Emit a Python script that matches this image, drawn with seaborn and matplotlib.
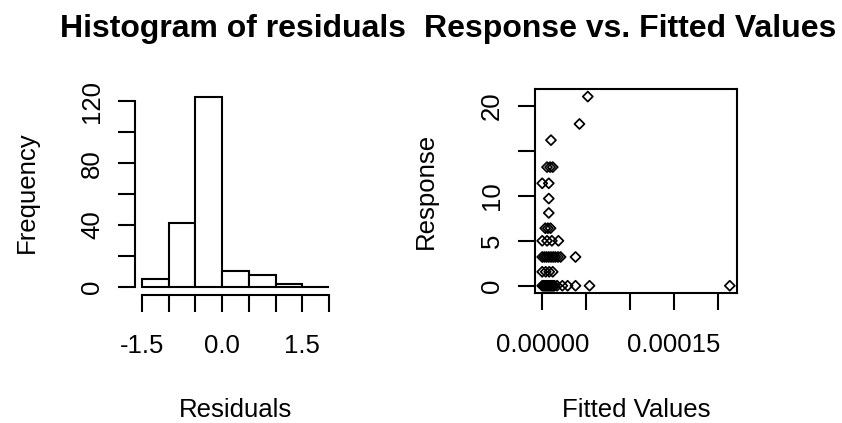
import matplotlib
matplotlib.use("Agg")
import matplotlib.pyplot as plt
import seaborn as sns
import numpy as np
import pandas as pd

# ---------------- data ----------------
hist_bin_edges = [-1.5, -1.0, -0.5, 0.0, 0.5, 1.0, 1.5, 2.0]
hist_counts = [5, 41, 123, 10, 8, 2, 0]
hist_xticks = [-1.5, -1.0, -0.5, 0.0, 0.5, 1.0, 1.5, 2.0]
hist_xticklabels = ["-1.5", "", "", "0.0", "", "", "1.5", ""]
hist_yticks = [0, 20, 40, 60, 80, 100, 120]
hist_yticklabels = ["0", "", "40", "", "80", "", "120"]

fitted = [
    # response = 0
    0.0, 1e-6, 2e-6, 3e-6, 4e-6, 5e-6, 6e-6, 7e-6, 8e-6, 9e-6, 1.0e-5, 1.1e-5,
    1.2e-5, 1.3e-5, 1.4e-5, 1.7e-5, 2.3e-5, 2.9e-5, 3.8e-5, 5.4e-5, 2.14e-4,
    # response = 1.55
    0.0, 4e-6, 8e-6, 1.2e-5,
    # response = 3.2
    0.0, 2.5e-6, 5e-6, 7.5e-6, 1.0e-5, 1.25e-5, 1.5e-5, 1.8e-5, 2.1e-5, 3.8e-5,
    # response = 5.0
    0.0, 5.5e-6, 1.1e-5, 1.85e-5,
    # response = 6.4
    3.5e-6, 6.5e-6, 9.5e-6,
    # response = 8.1, 9.7
    7.5e-6, 7.5e-6,
    # response = 11.4
    0.0, 7.5e-6,
    # response = 13.2
    5.5e-6, 9e-6, 1.2e-5,
    # response = 16.2, 18.0, 21.05
    1.0e-5, 4.25e-5, 5.2e-5,
]
response = (
    [0.0] * 21
    + [1.55] * 4
    + [3.2] * 10
    + [5.0] * 4
    + [6.4] * 3
    + [8.1, 9.7]
    + [11.4] * 2
    + [13.2] * 3
    + [16.2, 18.0, 21.05]
)
scat_xticks = [0.0, 5e-5, 1e-4, 1.5e-4, 2e-4]
scat_xticklabels = ["0.00000", "", "", "0.00015", ""]
scat_yticks = [0, 5, 10, 15, 20]
scat_yticklabels = ["0", "5", "10", "", "20"]

# ---------------- style ----------------
sns.set_theme(style="white")
plt.rcParams["font.family"] = ["Liberation Sans", "DejaVu Sans"]
LW = 1.5
TICK_FS = 18.5
LABEL_FS = 18.5
TITLE_FS = 23

fig = plt.figure(figsize=(8.42, 4.23), dpi=100)
W, H = 842.0, 423.0
ax1 = fig.add_axes([134.5 / W, (H - 294.5) / H, 202 / W, 205.5 / H])
ax2 = fig.add_axes([534.7 / W, (H - 293.3) / H, 202.6 / W, 204.3 / H])

# ---------------- histogram ----------------
centers = [(a + b) / 2 for a, b in zip(hist_bin_edges[:-1], hist_bin_edges[1:])]
hdf = pd.DataFrame({"resid": centers, "n": hist_counts})
sns.histplot(data=hdf, x="resid", weights="n", bins=hist_bin_edges, ax=ax1,
             color="white", edgecolor="black", linewidth=LW, alpha=1.0)
xr = hist_bin_edges[-1] - hist_bin_edges[0]
ax1.set_xlim(hist_bin_edges[0] - 0.04 * xr, hist_bin_edges[-1] + 0.04 * xr)
ymax = max(hist_counts)
ax1.set_ylim(-0.04 * ymax, ymax * 1.04)
for s in ["top", "right"]:
    ax1.spines[s].set_visible(False)
ax1.spines["left"].set_bounds(hist_yticks[0], hist_yticks[-1])
ax1.spines["bottom"].set_bounds(hist_xticks[0], hist_xticks[-1])
ax1.set_xticks(hist_xticks)
ax1.set_xticklabels(hist_xticklabels)
ax1.set_yticks(hist_yticks)
ax1.set_yticklabels(hist_yticklabels)

# ---------------- scatter ----------------
sdf = pd.DataFrame({"fitted": fitted, "response": response})
sns.scatterplot(data=sdf, x="fitted", y="response", ax=ax2, marker="D", s=26,
                facecolor="none", edgecolor="black", linewidth=1.25)
fx0, fx1 = min(fitted), max(fitted)
ax2.set_xlim(fx0 - 0.04 * (fx1 - fx0), fx1 + 0.04 * (fx1 - fx0))
ry0, ry1 = min(response), max(response)
ax2.set_ylim(ry0 - 0.04 * (ry1 - ry0), ry1 + 0.04 * (ry1 - ry0))
ax2.set_xticks(scat_xticks)
ax2.set_xticklabels(scat_xticklabels)
ax2.set_yticks(scat_yticks)
ax2.set_yticklabels(scat_yticklabels)
for s in ax2.spines.values():
    s.set_visible(True)

# ---------------- common axis styling ----------------
for ax in (ax1, ax2):
    for s in ax.spines.values():
        s.set_linewidth(LW)
        s.set_color("black")
    ax.tick_params(axis="both", direction="out", length=12.5, width=LW,
                   color="black", labelsize=TICK_FS, labelcolor="black",
                   bottom=True, left=True)
    ax.tick_params(axis="x", pad=16.0)
    ax.tick_params(axis="y", pad=9.5)
    for lbl in ax.get_yticklabels():
        lbl.set_rotation(90)
        lbl.set_va("center")
    ax.grid(False)

ax1.set_xlabel("Residuals", fontsize=LABEL_FS, va="center", color="black")
ax1.set_ylabel("Frequency", fontsize=LABEL_FS, va="center", color="black")
ax1.xaxis.set_label_coords(0.5, -0.5606)
ax1.yaxis.set_label_coords(-0.532, 0.5)
ax2.set_xlabel("Fitted Values", fontsize=LABEL_FS, va="center", color="black")
ax2.set_ylabel("Response", fontsize=LABEL_FS, va="center", color="black")
ax2.xaxis.set_label_coords(0.5, -0.5697)
ax2.yaxis.set_label_coords(-0.536, 0.5)

ax1.text(0.49, 1.2516, "Histogram of residuals", transform=ax1.transAxes,
         ha="center", va="baseline", fontsize=TITLE_FS, fontweight="bold",
         color="black")
ax2.text(0.47, 1.255, "Response vs. Fitted Values", transform=ax2.transAxes,
         ha="center", va="baseline", fontsize=TITLE_FS, fontweight="bold",
         color="black")

fig.savefig("out.png", dpi=100, facecolor="white")
